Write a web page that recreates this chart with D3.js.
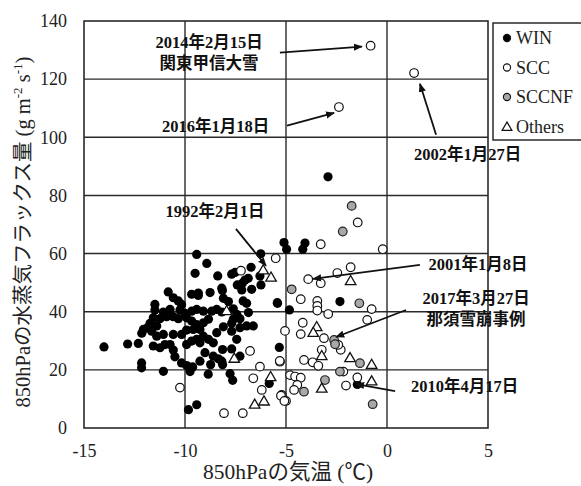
<!DOCTYPE html>
<html><head><meta charset="utf-8">
<script src="https://cdn.jsdelivr.net/npm/d3@7"></script>
<style>body{margin:0;background:#fff}svg{display:block}</style>
</head><body>
<svg id="chart" width="581" height="486"></svg>
<script>
// ---------- data ----------
const xTicks = [-15, -10, -5, 0, 5];
const yTicks = [0, 20, 40, 60, 80, 100, 120, 140];
const seriesNames = ["WIN", "SCC", "SCCNF", "Others"];

const win = [
 [-9.42,59.7],[-6.25,59.9],[-8.92,56.6],[-9.50,53.2],[-8.38,52.3],[-7.69,52.9],[-7.52,53.5],[-6.73,55.3],
 [-6.87,51.5],[-7.03,50.9],[-6.29,52.3],[-7.41,49.2],[-7.16,49.8],[-6.24,49.2],[-6.70,47.7],[-7.19,47.5],
 [-8.18,48.1],[-8.15,47.3],[-8.76,46.6],[-9.34,46.4],[-9.67,46.0],[-8.10,44.6],[-7.85,43.5],[-7.12,43.7],
 [-6.95,42.9],[-5.42,42.9],[-10.83,46.8],[-10.58,44.8],[-10.33,43.7],[-10.17,42.5],[-11.49,42.5],[-9.34,45.6],
 [-11.49,40.6],[-11.07,39.9],[-10.74,40.8],[-10.25,40.6],[-10.00,39.4],[-9.67,40.2],[-9.42,40.8],[-9.09,40.2],
 [-8.68,40.2],[-8.43,40.8],[-8.18,39.9],[-7.61,41.0],[-6.86,39.7],[-7.44,39.1],
 [-11.57,37.9],[-11.24,37.6],[-10.91,38.3],[-10.58,38.3],[-10.33,37.6],[-9.92,37.9],[-9.67,36.8],[-9.42,35.6],
 [-9.09,36.2],[-8.84,37.4],[-7.61,37.4],[-7.28,37.6],[-6.95,35.1],[-6.62,35.1],[-7.69,36.0],[-7.28,34.5],
 [-11.73,36.0],[-11.86,34.5],[-12.06,33.9],[-11.40,35.1],
 [-11.65,33.3],[-11.40,31.6],[-11.07,32.2],[-10.58,32.2],[-10.17,32.2],[-9.92,33.7],[-9.59,33.9],[-9.26,33.9],
 [-9.09,31.6],[-8.84,30.5],[-8.43,32.8],[-8.10,34.8],[-7.69,33.3],[-7.44,30.5],[-8.60,29.3],
 [-11.57,28.2],[-11.24,27.6],[-10.99,28.7],[-10.74,28.7],[-10.58,26.8],[-9.92,28.7],[-9.67,29.9],[-9.42,30.5],
 [-9.26,29.3],[-9.01,25.9],[-8.60,24.7],[-8.35,23.8],[-8.14,27.0],[-7.69,27.2],[-7.28,24.7],
 [-10.50,24.5],[-10.17,22.4],[-9.92,21.5],[-9.62,21.0],[-9.26,23.0],[-8.73,21.8],[-8.18,23.0],[-8.14,21.8],
 [-12.15,22.4],[-12.15,20.7],[-11.07,19.5],[-7.77,18.7],[-7.64,16.4],[-8.85,18.5],[-9.75,19.4],
 [-9.83,6.3],[-9.42,8.0],[-14.01,27.9],[-12.84,28.9],[-12.31,29.1],[-12.14,32.6],
 [-5.33,27.7],[-5.83,15.3],[-5.10,63.8],[-4.97,61.5],[-4.06,63.6],[-4.17,61.5],[-5.43,43.1],[-4.83,40.6],
 [-2.92,86.4],[-2.33,43.5],[-1.47,15.0]
];
const scc = [
 [-0.81,131.5],[1.34,122.1],[-2.38,110.4],[-1.45,70.7],[-3.28,63.2],[-0.21,61.5],
 [-1.80,55.3],[-2.46,53.3],[-3.90,51.2],[-3.28,49.8],[-4.27,44.3],[-3.45,43.7],[-3.45,42.0],[-3.45,40.4],
 [-2.91,39.2],[-0.76,40.9],[-0.98,37.2],[-4.17,36.2],
 [-5.05,33.4],[-4.27,32.3],[-3.12,30.9],[-2.29,26.9],[-2.41,28.6],[-3.23,26.9],[-4.11,23.4],[-3.68,22.6],
 [-3.40,21.4],[-5.30,22.8],[-4.80,18.2],[-4.55,17.7],[-4.27,17.3],[-4.44,14.8],[-4.60,13.1],[-5.21,11.4],
 [-5.00,9.3],[-2.16,19.4],[-1.47,17.4],[-2.03,14.6],
 [-6.78,26.5],[-5.31,23.1],[-6.29,21.1],[-6.62,17.1],[-6.20,13.1],[-5.25,11.1],[-5.08,9.3],[-8.07,5.1],
 [-7.14,5.1],[-10.25,13.9],[-7.23,54.1],[-5.51,58.4]
];
const sccnf = [
 [-1.75,76.4],[-2.19,67.6],[-4.72,47.7],[-1.37,42.9],[-2.62,30.3],[-2.57,28.8],[-1.34,22.3],[-2.33,19.4],
 [-3.07,16.5],[-4.11,12.5],[-0.71,8.2]
];
const others = [
 [-6.13,54.4],[-5.74,51.9],[-7.94,40.4],[-7.56,24.0],[-5.76,17.7],[-6.55,8.2],[-6.09,9.3],[-1.80,50.7],
 [-3.48,34.9],[-3.65,32.9],[-3.23,24.9],[-1.83,24.2],[-0.76,21.9],[-0.76,16.2],[-3.23,13.7]
];

// annotations: label lines, label anchor (data), arrow from -> to (data)
const annoLabels = [
 ["2014年2月15日","関東甲信大雪"],["2016年1月18日"],["2002年1月27日"],["1992年2月1日"],
 ["2001年1月8日"],["2017年3月27日","那須雪崩事例"],["2010年4月17日"]
];
const annoText = [[-8.81,130.8],[-8.49,101.9],[3.99,92.3],[-8.51,72.6],[4.50,54.4],[4.41,42.7],[3.84,12.4]];
const annoFrom = [[-5.30,129.1],[-4.95,104.0],[2.43,100.9],[-7.48,68.5],[1.63,56.1],[0.94,40.6],[0.40,12.7]];
const annoTo   = [[-1.24,131.2],[-2.62,108.4],[1.63,118.4],[-5.99,55.8],[-3.66,51.3],[-2.52,31.3],[-1.53,15.1]];

// ---------- drawing ----------
const svg = d3.select("#chart");
const L = 84, R = 488, T = 21, B = 428;
const x = d3.scaleLinear().domain([-15, 5]).range([L, R]);
const y = d3.scaleLinear().domain([0, 140]).range([B, T]);
const serif = "'Liberation Serif','Times New Roman',serif";
const cjk = "'Liberation Serif','Noto Sans CJK JP',serif";
const gridCol = "#2a2a2a";

// grid
svg.append("g").selectAll("line").data(yTicks.slice(1, -1)).join("line")
  .attr("x1", L).attr("x2", R).attr("y1", d => y(d)).attr("y2", d => y(d))
  .attr("stroke", gridCol).attr("stroke-width", 1.4);
svg.append("g").selectAll("line").data(xTicks.slice(1, -1)).join("line")
  .attr("y1", T).attr("y2", B).attr("x1", d => x(d)).attr("x2", d => x(d))
  .attr("stroke", gridCol).attr("stroke-width", 1.4);
svg.append("rect").attr("x", L).attr("y", T).attr("width", R - L).attr("height", B - T)
  .attr("fill", "none").attr("stroke", gridCol).attr("stroke-width", 1.6);

// axes (labels only)
const xAxis = svg.append("g").attr("transform", `translate(0,${B})`)
  .call(d3.axisBottom(x).tickValues(xTicks).tickSize(0).tickPadding(16).tickFormat(d3.format("d")));
const yAxis = svg.append("g").attr("transform", `translate(${L},0)`)
  .call(d3.axisLeft(y).tickValues(yTicks).tickSize(0).tickPadding(17).tickFormat(d3.format("d")));
[xAxis, yAxis].forEach(a => {
  a.select(".domain").remove();
  a.selectAll("text").attr("font-family", serif).attr("font-size", 18).attr("fill", "#222");
});
xAxis.selectAll("text").text(d => d < 0 ? "-" + Math.abs(d) : d);

// points
const g = svg.append("g");
g.selectAll(".win").data(win).join("circle")
  .attr("cx", d => x(d[0])).attr("cy", d => y(d[1])).attr("r", 4.6).attr("fill", "#000");
g.selectAll(".scc").data(scc).join("circle")
  .attr("cx", d => x(d[0])).attr("cy", d => y(d[1])).attr("r", 4.3)
  .attr("fill", "#fff").attr("stroke", "#111").attr("stroke-width", 1.2);
g.selectAll(".sccnf").data(sccnf).join("circle")
  .attr("cx", d => x(d[0])).attr("cy", d => y(d[1])).attr("r", 4.3)
  .attr("fill", "#a8a8a8").attr("stroke", "#222").attr("stroke-width", 1.2);
const tri = d3.symbol().type(d3.symbolTriangle).size(48);
g.selectAll(".oth").data(others).join("path")
  .attr("d", tri).attr("transform", d => `translate(${x(d[0])},${y(d[1]) + 1})`)
  .attr("fill", "#fff").attr("stroke", "#111").attr("stroke-width", 1.3);

// arrows
svg.append("defs").append("marker").attr("id", "ah").attr("viewBox", "0 0 10 10")
  .attr("refX", 9).attr("refY", 5).attr("markerWidth", 9).attr("markerHeight", 9)
  .attr("markerUnits", "userSpaceOnUse").attr("orient", "auto")
  .append("path").attr("d", "M0,1 L10,5 L0,9 Z").attr("fill", "#111");
const ann = svg.append("g");
annoFrom.forEach((f, i) => {
  ann.append("line").attr("x1", x(f[0])).attr("y1", y(f[1]))
    .attr("x2", x(annoTo[i][0])).attr("y2", y(annoTo[i][1]))
    .attr("stroke", "#111").attr("stroke-width", 1.8).attr("marker-end", "url(#ah)");
});
annoLabels.forEach((lines, i) => {
  lines.forEach((t, j) => {
    ann.append("text").attr("x", x(annoText[i][0])).attr("y", y(annoText[i][1]) + j * 21)
      .attr("text-anchor", "middle").attr("font-family", cjk).attr("font-weight", "bold")
      .attr("font-size", 16.5).attr("fill", "#111").text(t);
  });
});

// legend
const lg = svg.append("g");
lg.append("rect").attr("x", 493).attr("y", 23).attr("width", 90).attr("height", 117)
  .attr("fill", "#fff").attr("stroke", gridCol).attr("stroke-width", 1.5);
seriesNames.forEach((s, i) => {
  const cy = 38 + i * 29.5;
  if (s === "Others") {
    lg.append("path").attr("d", d3.symbol().type(d3.symbolTriangle).size(40))
      .attr("transform", `translate(507,${cy + 1})`).attr("fill", "#fff").attr("stroke", "#111").attr("stroke-width", 1.3);
  } else {
    lg.append("circle").attr("cx", 507).attr("cy", cy).attr("r", 3.6)
      .attr("fill", s === "WIN" ? "#000" : s === "SCC" ? "#fff" : "#a8a8a8")
      .attr("stroke", "#111").attr("stroke-width", 1.1);
  }
  lg.append("text").attr("x", 516).attr("y", cy + 6).attr("font-family", serif)
    .attr("font-size", 18).attr("fill", "#222").text(s);
});

// axis titles
svg.append("text").attr("x", 288).attr("y", 479).attr("text-anchor", "middle")
  .attr("font-family", cjk).attr("font-size", 21.5).attr("fill", "#222")
  .text("850hPaの気温 (℃)");
const yt = svg.append("text").attr("transform", "translate(30,232) rotate(-90)")
  .attr("text-anchor", "middle").attr("font-family", cjk).attr("font-size", 20.5).attr("fill", "#222");
yt.append("tspan").text("850hPaの水蒸気フラックス量 (g m");
yt.append("tspan").attr("dy", -8).attr("font-size", 13).text("-2");
yt.append("tspan").attr("dy", 8).text(" s");
yt.append("tspan").attr("dy", -8).attr("font-size", 13).text("-1");
yt.append("tspan").attr("dy", 8).text(")");
</script>
</body></html>
